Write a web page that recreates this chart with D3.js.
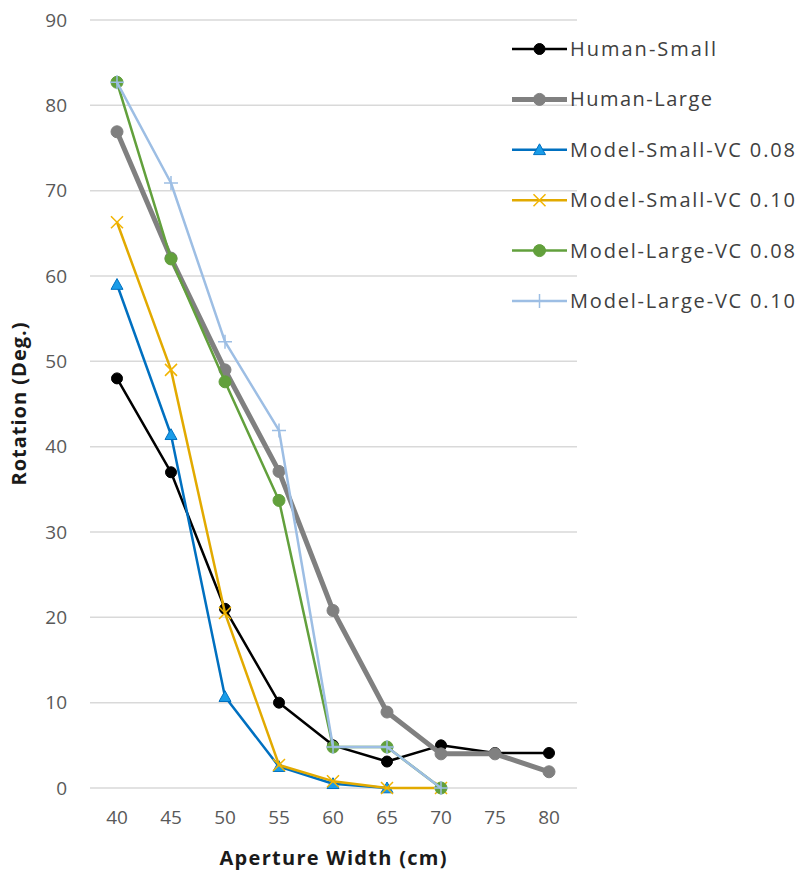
<!DOCTYPE html>
<html><head><meta charset="utf-8">
<script src="https://cdn.jsdelivr.net/npm/d3@7/dist/d3.min.js"></script>
<style>body{margin:0;background:#fff}</style>
</head><body>
<script>
const categories = [40,45,50,55,60,65,70,75,80];
const yTicks = [0,10,20,30,40,50,60,70,80,90];
const humanSmall = [48,37,21,10,5,3.1,5,4.1,4.1];
const humanLarge = [76.9,62.1,49,37.1,20.8,8.9,4,4,1.9];
const modelSmall008 = [59,41.4,10.7,2.5,0.5,0];
const modelSmall010 = [66.3,49,20.5,2.7,0.8,0,0];
const modelLarge008 = [82.7,62,47.6,33.7,4.8,4.8,0];
const modelLarge010 = [82.7,70.9,52.3,41.9,4.8,4.8,0];
const seriesNames = ["Human-Small","Human-Large","Model-Small-VC 0.08","Model-Small-VC 0.10","Model-Large-VC 0.08","Model-Large-VC 0.10"];
const xTitle = "Aperture Width (cm)";
const yTitle = "Rotation (Deg.)";

const series = [
  {name:seriesNames[0], values:humanSmall, color:"#000000", width:2.5, marker:"circle", mcolor:"#000000", r:5.5, tl:146},
  {name:seriesNames[1], values:humanLarge, color:"#808080", width:5, marker:"circle", mcolor:"#808080", r:6, tl:142},
  {name:seriesNames[2], values:modelSmall008, color:"#0070C0", width:2.5, marker:"triangle", mcolor:"#1A9CE8", r:6, tl:225},
  {name:seriesNames[3], values:modelSmall010, color:"#E2AA00", width:2.5, marker:"x", mcolor:"#F2B400", r:6, tl:225},
  {name:seriesNames[4], values:modelLarge008, color:"#62A03C", width:2.5, marker:"circle", mcolor:"#62A03C", r:6, tl:225},
  {name:seriesNames[5], values:modelLarge010, color:"#9DBEE4", width:2.5, marker:"plus", mcolor:"#9DBEE4", r:7, tl:225}
];

const W=799,H=871;
const svg=d3.select("body").append("svg").attr("width",W).attr("height",H);
const x=d3.scaleBand().domain(categories).range([90,576]);
const y=d3.scaleLinear().domain([0,90]).range([788,20]);
const cx=d=>x(d)+x.bandwidth()/2;
const FONT="Open Sans, sans-serif";

// gridlines
svg.append("g").selectAll("line").data(yTicks).join("line")
  .attr("x1",90).attr("x2",577).attr("y1",d=>y(d)).attr("y2",d=>y(d))
  .attr("stroke","#d9d9d9").attr("stroke-width",1.5);

// y tick labels
svg.append("g").selectAll("text").data(yTicks).join("text")
  .attr("x",67).attr("y",d=>y(d)).attr("dy","0.35em").attr("text-anchor","end")
  .attr("font-family",FONT).attr("font-size",19).attr("fill","#595959")
  .text(d=>d);
// x tick labels
svg.append("g").selectAll("text").data(categories).join("text")
  .attr("x",d=>cx(d)).attr("y",817).attr("dy","0.35em").attr("text-anchor","middle")
  .attr("font-family",FONT).attr("font-size",19).attr("fill","#595959")
  .text(d=>d);

// titles
svg.append("text").attr("x",333).attr("y",858).attr("dy","0.35em").attr("text-anchor","middle")
  .attr("font-family",FONT).attr("font-weight","bold").attr("font-size",20).attr("fill","#1a1a1a")
  .attr("textLength",227).attr("lengthAdjust","spacing")
  .text(xTitle);
svg.append("text").attr("transform","translate(19,404) rotate(-90)").attr("dy","0.35em").attr("text-anchor","middle")
  .attr("font-family",FONT).attr("font-weight","bold").attr("font-size",20).attr("fill","#1a1a1a")
  .attr("textLength",163).attr("lengthAdjust","spacing")
  .text(yTitle);

function drawMarker(g,s,px,py){
  const r=s.r;
  if(s.marker==="circle"){
    g.append("circle").attr("cx",px).attr("cy",py).attr("r",r).attr("fill",s.mcolor).attr("stroke",s.mcolor);
  } else if(s.marker==="triangle"){
    const p=[[px,py-r],[px+r,py+r*0.8],[px-r,py+r*0.8]];
    g.append("path").attr("d","M"+p.map(q=>q.join(",")).join("L")+"Z").attr("fill",s.mcolor).attr("stroke",s.color).attr("stroke-width",1);
  } else if(s.marker==="x"){
    g.append("path").attr("d",`M${px-r},${py-r}L${px+r},${py+r}M${px-r},${py+r}L${px+r},${py-r}`)
      .attr("stroke",s.mcolor).attr("stroke-width",1.5).attr("fill","none");
  } else if(s.marker==="plus"){
    g.append("path").attr("d",`M${px-r},${py}L${px+r},${py}M${px},${py-r}L${px},${py+r}`)
      .attr("stroke",s.mcolor).attr("stroke-width",1.5).attr("fill","none");
  }
}

const line=d3.line().x((d,i)=>cx(categories[i])).y(d=>y(d));
series.forEach(s=>{
  const g=svg.append("g");
  g.append("path").attr("d",line(s.values)).attr("fill","none").attr("stroke",s.color)
    .attr("stroke-width",s.width).attr("stroke-linejoin","round");
  s.values.forEach((v,i)=>drawMarker(g,s,cx(categories[i]),y(v)));
});

// legend
const legY=d3.scaleLinear().domain([0,5]).range([49,301]);
series.forEach((s,i)=>{
  const g=svg.append("g");
  const ly=legY(i);
  g.append("line").attr("x1",512).attr("x2",567).attr("y1",ly).attr("y2",ly)
    .attr("stroke",s.color).attr("stroke-width",s.width);
  drawMarker(g,s,539.5,ly);
  g.append("text").attr("x",570).attr("y",ly).attr("dy","0.35em")
    .attr("font-family",FONT).attr("font-size",20).attr("fill","#404040")
    .attr("textLength",s.tl).attr("lengthAdjust","spacing")
    .text(s.name);
});
</script>
</body></html>
